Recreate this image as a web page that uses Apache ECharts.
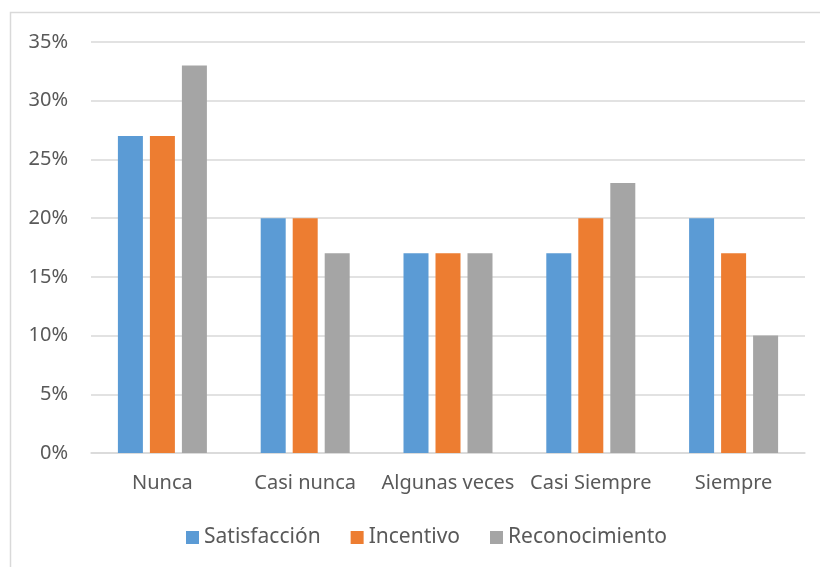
<!DOCTYPE html>
<html>
<head>
<meta charset="utf-8">
<script src="https://cdn.jsdelivr.net/npm/echarts@6/dist/echarts.min.js"></script>
<style>
  html, body { margin: 0; padding: 0; background: #fff; }
  #chart { width: 820px; height: 567px; }
</style>
</head>
<body>
<div id="chart"></div>
<script>
// Response categories along the x axis
const categories = ['Nunca', 'Casi nunca', 'Algunas veces', 'Casi Siempre', 'Siempre'];
// Percent of respondents per category
const satisfaccion = [27, 20, 17, 17, 20];
const incentivo = [27, 20, 17, 20, 17];
const reconocimiento = [33, 17, 17, 23, 10];
const seriesNames = ['Satisfacción', 'Incentivo', 'Reconocimiento'];
// y-axis ticks in percent
const yTicks = [0, 5, 10, 15, 20, 25, 30, 35];

const font = '"Noto Sans", "Open Sans", sans-serif';
const textColor = '#595959';

const chart = echarts.init(document.getElementById('chart'), null, { renderer: 'canvas' });

function bar(name, data, color) {
  return {
    name: name,
    type: 'bar',
    data: data,
    barWidth: 25,
    barGap: '28%',
    itemStyle: { color: color },
    emphasis: { disabled: true }
  };
}

chart.setOption({
  animation: false,
  backgroundColor: '#fff',
  graphic: [{
    type: 'rect',
    shape: { x: 10.5, y: 12.5, width: 830, height: 580 },
    style: { fill: 'none', stroke: '#d9d9d9', lineWidth: 1.5 },
    silent: true
  }],
  grid: { left: 91, right: 15, top: 42, bottom: 114 },
  legend: {
    data: seriesNames,
    bottom: 14,
    left: 181,
    itemWidth: 13,
    itemHeight: 13,
    itemGap: 30,
    icon: 'rect',
    textStyle: { color: textColor, fontSize: 21, fontFamily: font }
  },
  xAxis: {
    type: 'category',
    data: categories,
    axisTick: { show: false },
    axisLine: { lineStyle: { color: '#d9d9d9', width: 1.5 } },
    axisLabel: { color: textColor, fontSize: 20, fontFamily: font, margin: 20, interval: 0 }
  },
  yAxis: {
    type: 'value',
    min: yTicks[0],
    max: yTicks[yTicks.length - 1],
    interval: 5,
    axisLine: { show: false },
    axisTick: { show: false },
    splitLine: { lineStyle: { color: '#d9d9d9', width: 1.5 } },
    axisLabel: { color: textColor, fontSize: 20, fontFamily: font, margin: 23, formatter: '{value}%' }
  },
  series: [
    bar(seriesNames[0], satisfaccion, '#5B9BD5'),
    bar(seriesNames[1], incentivo, '#ED7D31'),
    bar(seriesNames[2], reconocimiento, '#A5A5A5')
  ]
});
</script>
</body>
</html>
